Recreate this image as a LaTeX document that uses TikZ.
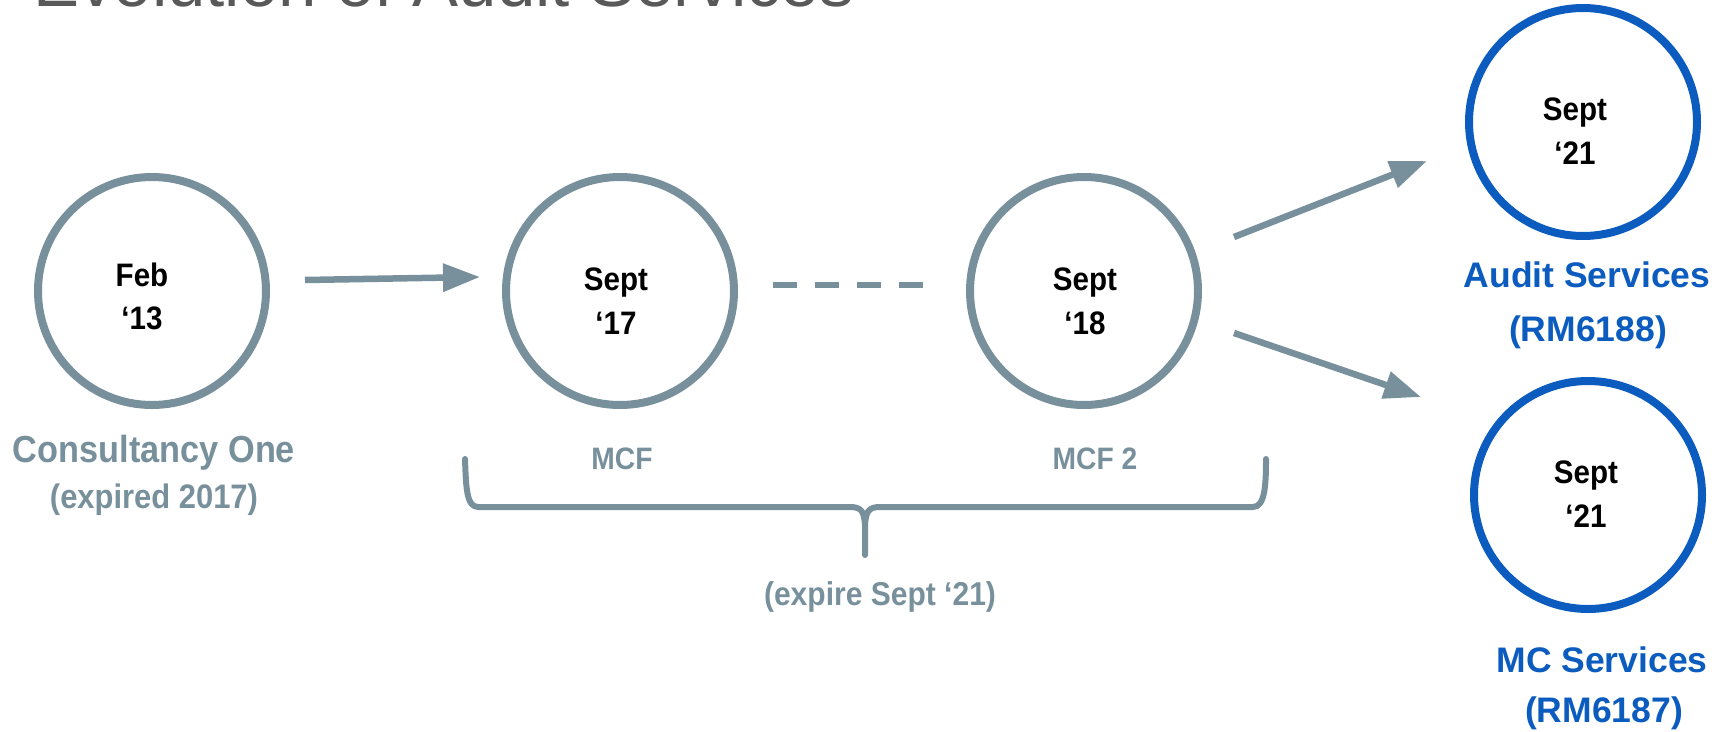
\documentclass[tikz,border=0pt]{standalone}
\usepackage{fontspec}
\setmainfont{Liberation Sans}
\newfontfamily\rob[FakeStretch=0.91]{Liberation Sans}
\usetikzlibrary{arrows.meta}
\definecolor{cgray}{HTML}{78909C}
\definecolor{cblue}{HTML}{0B5CBE}
\definecolor{ctitle}{HTML}{595959}
\tikzset{
  ring/.style={circle, draw=cgray, line width=8pt, minimum size=228pt, inner sep=0pt},
  bring/.style={ring, draw=cblue},
  datetxt/.style={anchor=base, inner sep=0pt, text=black, font={\rob\bfseries\fontsize{32.5}{36}\selectfont}},
  glabel/.style={anchor=base, inner sep=0pt, text=cgray, font={\rob\bfseries\fontsize{#1}{#1}\selectfont}},
  blabel/.style={anchor=base, inner sep=0pt, text=cblue, font={\bfseries\fontsize{35.5}{36}\selectfont}},
  conn/.style={draw=cgray, line width=6.5pt},
  arr/.style={conn, -{Triangle[length=37pt,width=27pt]}},
}
\begin{document}
\begin{tikzpicture}[x=1pt,y=-1pt]
\useasboundingbox (0,0) rectangle (1729,731);
\clip (0,0) rectangle (1729,731);
% title (cut off at the top)
\node[anchor=base west, inner sep=0pt, text=ctitle, font={\fontsize{69}{72}\selectfont}] (title) at (33,6) {Evolution of Audit Services};
% circles
\node[ring] (c1) at (152,291) {};
\node[ring] (c2) at (620,291) {};
\node[ring] (c3) at (1084,291) {};
\node[bring] (b1) at (1583,122) {};
\node[bring] (b2) at (1588,495) {};
% circle texts
\node[datetxt] (t1a) at (142,286) {Feb};
\node[datetxt] (t1b) at (142,329) {‘13};
\node[datetxt] (t2a) at (616,290) {Sept};
\node[datetxt] (t2b) at (616,334) {‘17};
\node[datetxt] (t3a) at (1085,290) {Sept};
\node[datetxt] (t3b) at (1085,334) {‘18};
\node[datetxt] (t4a) at (1575,120) {Sept};
\node[datetxt] (t4b) at (1575,164) {‘21};
\node[datetxt] (t5a) at (1586,483) {Sept};
\node[datetxt] (t5b) at (1586,527) {‘21};
% labels
\node[glabel=37.7] (l1a) at (154,462) {Consultancy One};
\node[glabel=34] (l1b) at (154,508) {(expired 2017)};
\node[glabel=31] (l2) at (622,469) {MCF};
\node[glabel=31] (l3) at (1095,469) {MCF 2};
\node[glabel=33] (l4) at (880,605) {(expire Sept ‘21)};
\node[blabel] (l5a) at (1587,287) {Audit Services};
\node[blabel] (l5b) at (1588,341) {(RM6188)};
\node[blabel] (l6a) at (1602,672) {MC Services};
\node[blabel] (l6b) at (1604,722) {(RM6187)};
% connectors
\draw[arr] ([xshift=35pt,yshift=11pt]c1.east) -- ([xshift=-22pt,yshift=14pt]c2.west);
\draw[conn, dash pattern=on 24pt off 18pt] ([xshift=35pt,yshift=6pt]c2.east) -- ([xshift=-43pt,yshift=6pt]c3.west);
\draw[arr] ([xshift=150pt,yshift=54pt]c3.center) -- ([xshift=-156pt,yshift=-39pt]b1.center);
\draw[arr] ([xshift=150pt,yshift=-42pt]c3.center) -- ([xshift=-167pt,yshift=98pt]b2.center);
% brace
\draw[cgray, line width=6pt, line cap=round, line join=round]
  (465,459) .. controls (466,485) and (466,507) .. (478,507)
  -- (850,507) .. controls (862,507) and (864,512) .. (865,525)
  -- (865,555);
\draw[cgray, line width=6pt, line cap=round, line join=round]
  (865,525) .. controls (866,512) and (868,507) .. (880,507)
  -- (1253,507) .. controls (1265,507) and (1266,485) .. (1266,459);
\end{tikzpicture}
\end{document}
